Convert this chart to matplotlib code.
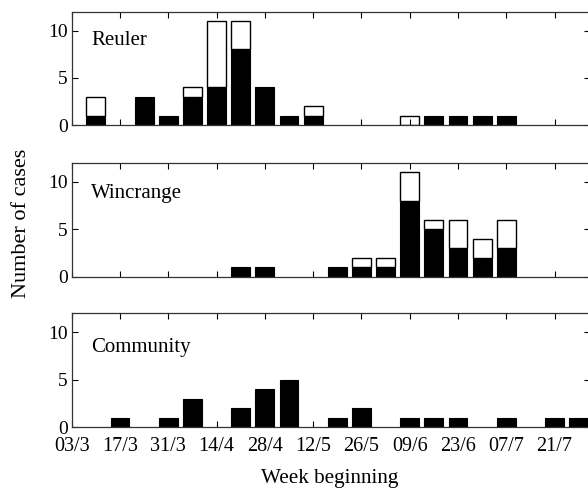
import matplotlib.pyplot as plt
import numpy as np

plt.rcParams['font.family'] = ['Liberation Serif', 'DejaVu Serif']

week_idx = list(range(22))
tick_pos = list(range(0, 21, 2))
tick_labels = ['03/3', '17/3', '31/3', '14/4', '28/4', '12/5',
               '26/5', '09/6', '23/6', '07/7', '21/7']

# black = filled part, white = open part stacked on top
reuler_black = [0, 1, 0, 3, 1, 3, 4, 8, 4, 1, 1, 0, 0, 0, 0, 1, 1, 1, 1, 0, 0, 0]
reuler_white = [0, 2, 0, 0, 0, 1, 7, 3, 0, 0, 1, 0, 0, 0, 1, 0, 0, 0, 0, 0, 0, 0]
wincrange_black = [0, 0, 0, 0, 0, 0, 0, 1, 1, 0, 0, 1, 1, 1, 8, 5, 3, 2, 3, 0, 0, 0]
wincrange_white = [0, 0, 0, 0, 0, 0, 0, 0, 0, 0, 0, 0, 1, 1, 3, 1, 3, 2, 3, 0, 0, 0]
community_black = [0, 0, 1, 0, 1, 3, 0, 2, 4, 5, 0, 1, 2, 0, 1, 1, 1, 0, 1, 0, 1, 1]
community_white = [0] * 22

panels = [
    ('Reuler', reuler_black, reuler_white, 8.5),
    ('Wincrange', wincrange_black, wincrange_white, 8.25),
    ('Community', community_black, community_white, 7.95),
]

fig = plt.figure(figsize=(5.88, 4.91), dpi=100)
boxes = [(0.7454, 0.9762), (0.4365, 0.6686), (0.1303, 0.3619)]
x = np.array(week_idx)
w = 0.78

for i, (name, black, white, ty) in enumerate(panels):
    b0, b1 = boxes[i]
    ax = fig.add_axes([0.122, b0, 1.003 - 0.122, b1 - b0])
    black = np.array(black)
    white = np.array(white)
    m = black > 0
    ax.bar(x[m], black[m], width=w, color='black', edgecolor='black', linewidth=0.8)
    m2 = white > 0
    ax.bar(x[m2], white[m2], bottom=black[m2], width=w, color='white',
           edgecolor='black', linewidth=1.0)
    ax.set_xlim(0, 21.46)
    ax.set_ylim(0, 12)
    ax.set_yticks([0, 5, 10])
    ax.set_xticks(tick_pos)
    if i == 2:
        ax.set_xticklabels(tick_labels)
    else:
        ax.set_xticklabels([])
    ax.tick_params(direction='in', length=4, width=0.8, top=True, right=True,
                   labelsize=14, pad=3)
    ax.tick_params(axis='x', pad=7, labelsize=14.5)
    for s in ax.spines.values():
        s.set_linewidth(0.9)
        s.set_color('#333333')
    ax.text(0.8, ty, name, fontsize=15, va='baseline', ha='left')

fig.text(0.036, 0.545, 'Number of cases', rotation=90, ha='center', va='center',
         fontsize=16)
fig.text(0.56, 0.026, 'Week beginning', ha='center', va='center', fontsize=15.2)

fig.savefig('out.png', dpi=100)
